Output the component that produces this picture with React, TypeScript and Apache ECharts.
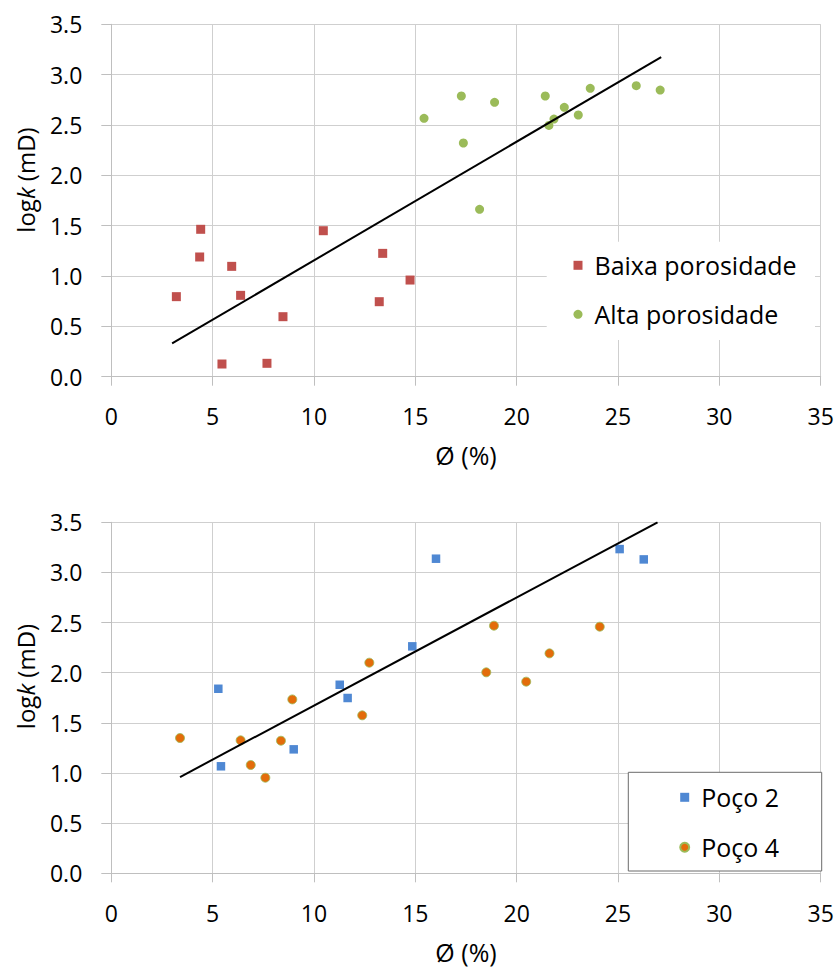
import React, { useEffect, useRef } from "react";
import * as echarts from "echarts";

const xTicks = { min: 0, max: 35, interval: 5 };
const yTicks = { min: 0, max: 3.5, interval: 0.5 };

const baixaName = "Baixa porosidade";
const altaName = "Alta porosidade";
const poco2Name = "Poço 2";
const poco4Name = "Poço 4";

const baixaPorosidade: number[][] = [
  [3.21, 0.795], [4.41, 1.464], [4.36, 1.189], [5.94, 1.096], [6.38, 0.808],
  [8.47, 0.596], [5.46, 0.126], [7.68, 0.133], [10.46, 1.45], [13.39, 1.225],
  [13.22, 0.745], [14.74, 0.96],
];
const altaPorosidade: number[][] = [
  [15.43, 2.566], [17.27, 2.788], [17.37, 2.321], [18.17, 1.662], [18.91, 2.725],
  [21.41, 2.788], [21.59, 2.496], [21.84, 2.559], [22.35, 2.675], [23.04, 2.599],
  [23.63, 2.864], [25.9, 2.89], [27.08, 2.847],
];
const trendTop: number[][] = [[3.0, 0.33], [27.13, 3.175]];

const poco2: number[][] = [
  [5.28, 1.84], [5.41, 1.067], [9.0, 1.236], [11.27, 1.88], [11.66, 1.748],
  [14.85, 2.263], [16.02, 3.137], [25.08, 3.233], [26.27, 3.13],
];
const poco4: number[][] = [
  [3.39, 1.349], [6.38, 1.326], [6.88, 1.08], [7.6, 0.953], [8.37, 1.322],
  [8.93, 1.734], [12.38, 1.575], [12.73, 2.1], [18.5, 2.004], [18.88, 2.469],
  [20.47, 1.911], [21.62, 2.193], [24.1, 2.459],
];
const trendBottom: number[][] = [[3.39, 0.96], [26.95, 3.5]];

const FONT = "'Open Sans', 'Noto Sans', sans-serif";
const TXT = "#000000";
const GRID_C = "#cfcfcf";

function xAxisDef(gridIndex: number) {
  return {
    type: "value",
    gridIndex,
    min: xTicks.min,
    max: xTicks.max,
    interval: xTicks.interval,
    name: "Ø (%)",
    nameLocation: "middle",
    nameGap: 66,
    nameTextStyle: { fontFamily: FONT, fontSize: 25, color: TXT },
    axisLine: { show: true, onZero: false, lineStyle: { color: "#bfbfbf", width: 1 } },
    axisTick: { show: true, length: 9, lineStyle: { color: "#bfbfbf" } },
    axisLabel: { fontFamily: FONT, fontSize: 23, color: TXT, margin: 28 },
    splitLine: { show: true, lineStyle: { color: GRID_C, width: 1 } },
  };
}
function yAxisDef(gridIndex: number) {
  return {
    type: "value",
    gridIndex,
    min: yTicks.min,
    max: yTicks.max,
    interval: yTicks.interval,
    axisLine: { show: true, onZero: false, lineStyle: { color: "#bfbfbf", width: 1 } },
    axisTick: { show: true, length: 10, lineStyle: { color: "#bfbfbf" } },
    axisLabel: {
      fontFamily: FONT, fontSize: 23, color: TXT, margin: 29,
      formatter: (v: number) => v.toFixed(1),
    },
    splitLine: { show: true, lineStyle: { color: GRID_C, width: 1 } },
  };
}

function yTitle(cy: number) {
  return {
    type: "text",
    x: 25,
    y: cy,
    rotation: Math.PI / 2,
    style: {
      text: "{n|log}{i|k}{n| (mD)}",
      align: "center",
      verticalAlign: "middle",
      rich: {
        n: { fontFamily: FONT, fontSize: 24, fill: TXT },
        i: { fontFamily: FONT, fontSize: 24, fontStyle: "italic", fill: TXT },
      },
    },
  };
}

export default function App() {
  const ref = useRef<HTMLDivElement>(null);
  useEffect(() => {
    if (!ref.current) return;
    const chart = echarts.init(ref.current, undefined, { renderer: "svg" });
    const legendText = { fontFamily: FONT, fontSize: 25, color: TXT, lineHeight: 30, padding: [0, 0, 0, 7] };
    chart.setOption({
      animation: false,
      backgroundColor: "#ffffff",
      grid: [
        { left: 111.3, top: 24.3, width: 709.4, height: 352.4, containLabel: false },
        { left: 111.3, top: 522.3, width: 709.4, height: 351, containLabel: false },
      ],
      xAxis: [xAxisDef(0), xAxisDef(1)],
      yAxis: [yAxisDef(0), yAxisDef(1)],
      legend: [
        {
          data: [
            { name: baixaName, icon: "rect" },
            { name: altaName, icon: "circle" },
          ],
          orient: "vertical",
          left: 573.5,
          top: 250.3,
          padding: 0,
          itemWidth: 9,
          itemHeight: 9,
          itemGap: 19,
          textStyle: legendText,
          selectedMode: false,
        },
        {
          data: [
            { name: poco2Name, icon: "rect" },
            { name: poco4Name, icon: "circle" },
          ],
          orient: "vertical",
          left: 679.2,
          top: 782.3,
          padding: 0,
          itemWidth: 9,
          itemHeight: 9,
          itemGap: 20,
          textStyle: legendText,
          selectedMode: false,
        },
      ],
      graphic: [
        {
          type: "rect",
          z: 1,
          shape: { x: 546.7, y: 241.7, width: 268.3, height: 98.3 },
          style: { fill: "#ffffff" },
        },
        {
          type: "rect",
          z: 1,
          shape: { x: 628.3, y: 772.3, width: 193.4, height: 98.7 },
          style: { fill: "#ffffff", stroke: "#6b6b6b", lineWidth: 1 },
        },
        yTitle(180),
        yTitle(676.5),
      ],
      series: [
        {
          name: baixaName, type: "scatter", xAxisIndex: 0, yAxisIndex: 0,
          symbol: "rect", symbolSize: 9, itemStyle: { color: "#c0504d", opacity: 1 }, data: baixaPorosidade, z: 3,
        },
        {
          name: altaName, type: "scatter", xAxisIndex: 0, yAxisIndex: 0,
          symbol: "circle", symbolSize: 9, itemStyle: { color: "#9bbb59", opacity: 1 }, data: altaPorosidade, z: 3,
        },
        {
          name: "Tendência 1", type: "line", xAxisIndex: 0, yAxisIndex: 0,
          showSymbol: false, symbol: "none", lineStyle: { color: "#000000", width: 2 }, data: trendTop, z: 4,
        },
        {
          name: poco2Name, type: "scatter", xAxisIndex: 1, yAxisIndex: 1,
          symbol: "rect", symbolSize: 8.5, itemStyle: { color: "#4f88d3", opacity: 1 }, data: poco2, z: 3,
        },
        {
          name: poco4Name, type: "scatter", xAxisIndex: 1, yAxisIndex: 1,
          symbol: "circle", symbolSize: 9,
          itemStyle: { color: "#e36c0a", borderColor: "#9bbb59", borderWidth: 0.8, opacity: 1 },
          data: poco4, z: 3,
        },
        {
          name: "Tendência 2", type: "line", xAxisIndex: 1, yAxisIndex: 1,
          showSymbol: false, symbol: "none", lineStyle: { color: "#000000", width: 2 }, data: trendBottom, z: 4,
        },
      ],
    });
    return () => chart.dispose();
  }, []);
  return (
    <div
      ref={ref}
      style={{ position: "absolute", left: 0, top: 0, width: 837, height: 968, background: "#fff" }}
    />
  );
}
